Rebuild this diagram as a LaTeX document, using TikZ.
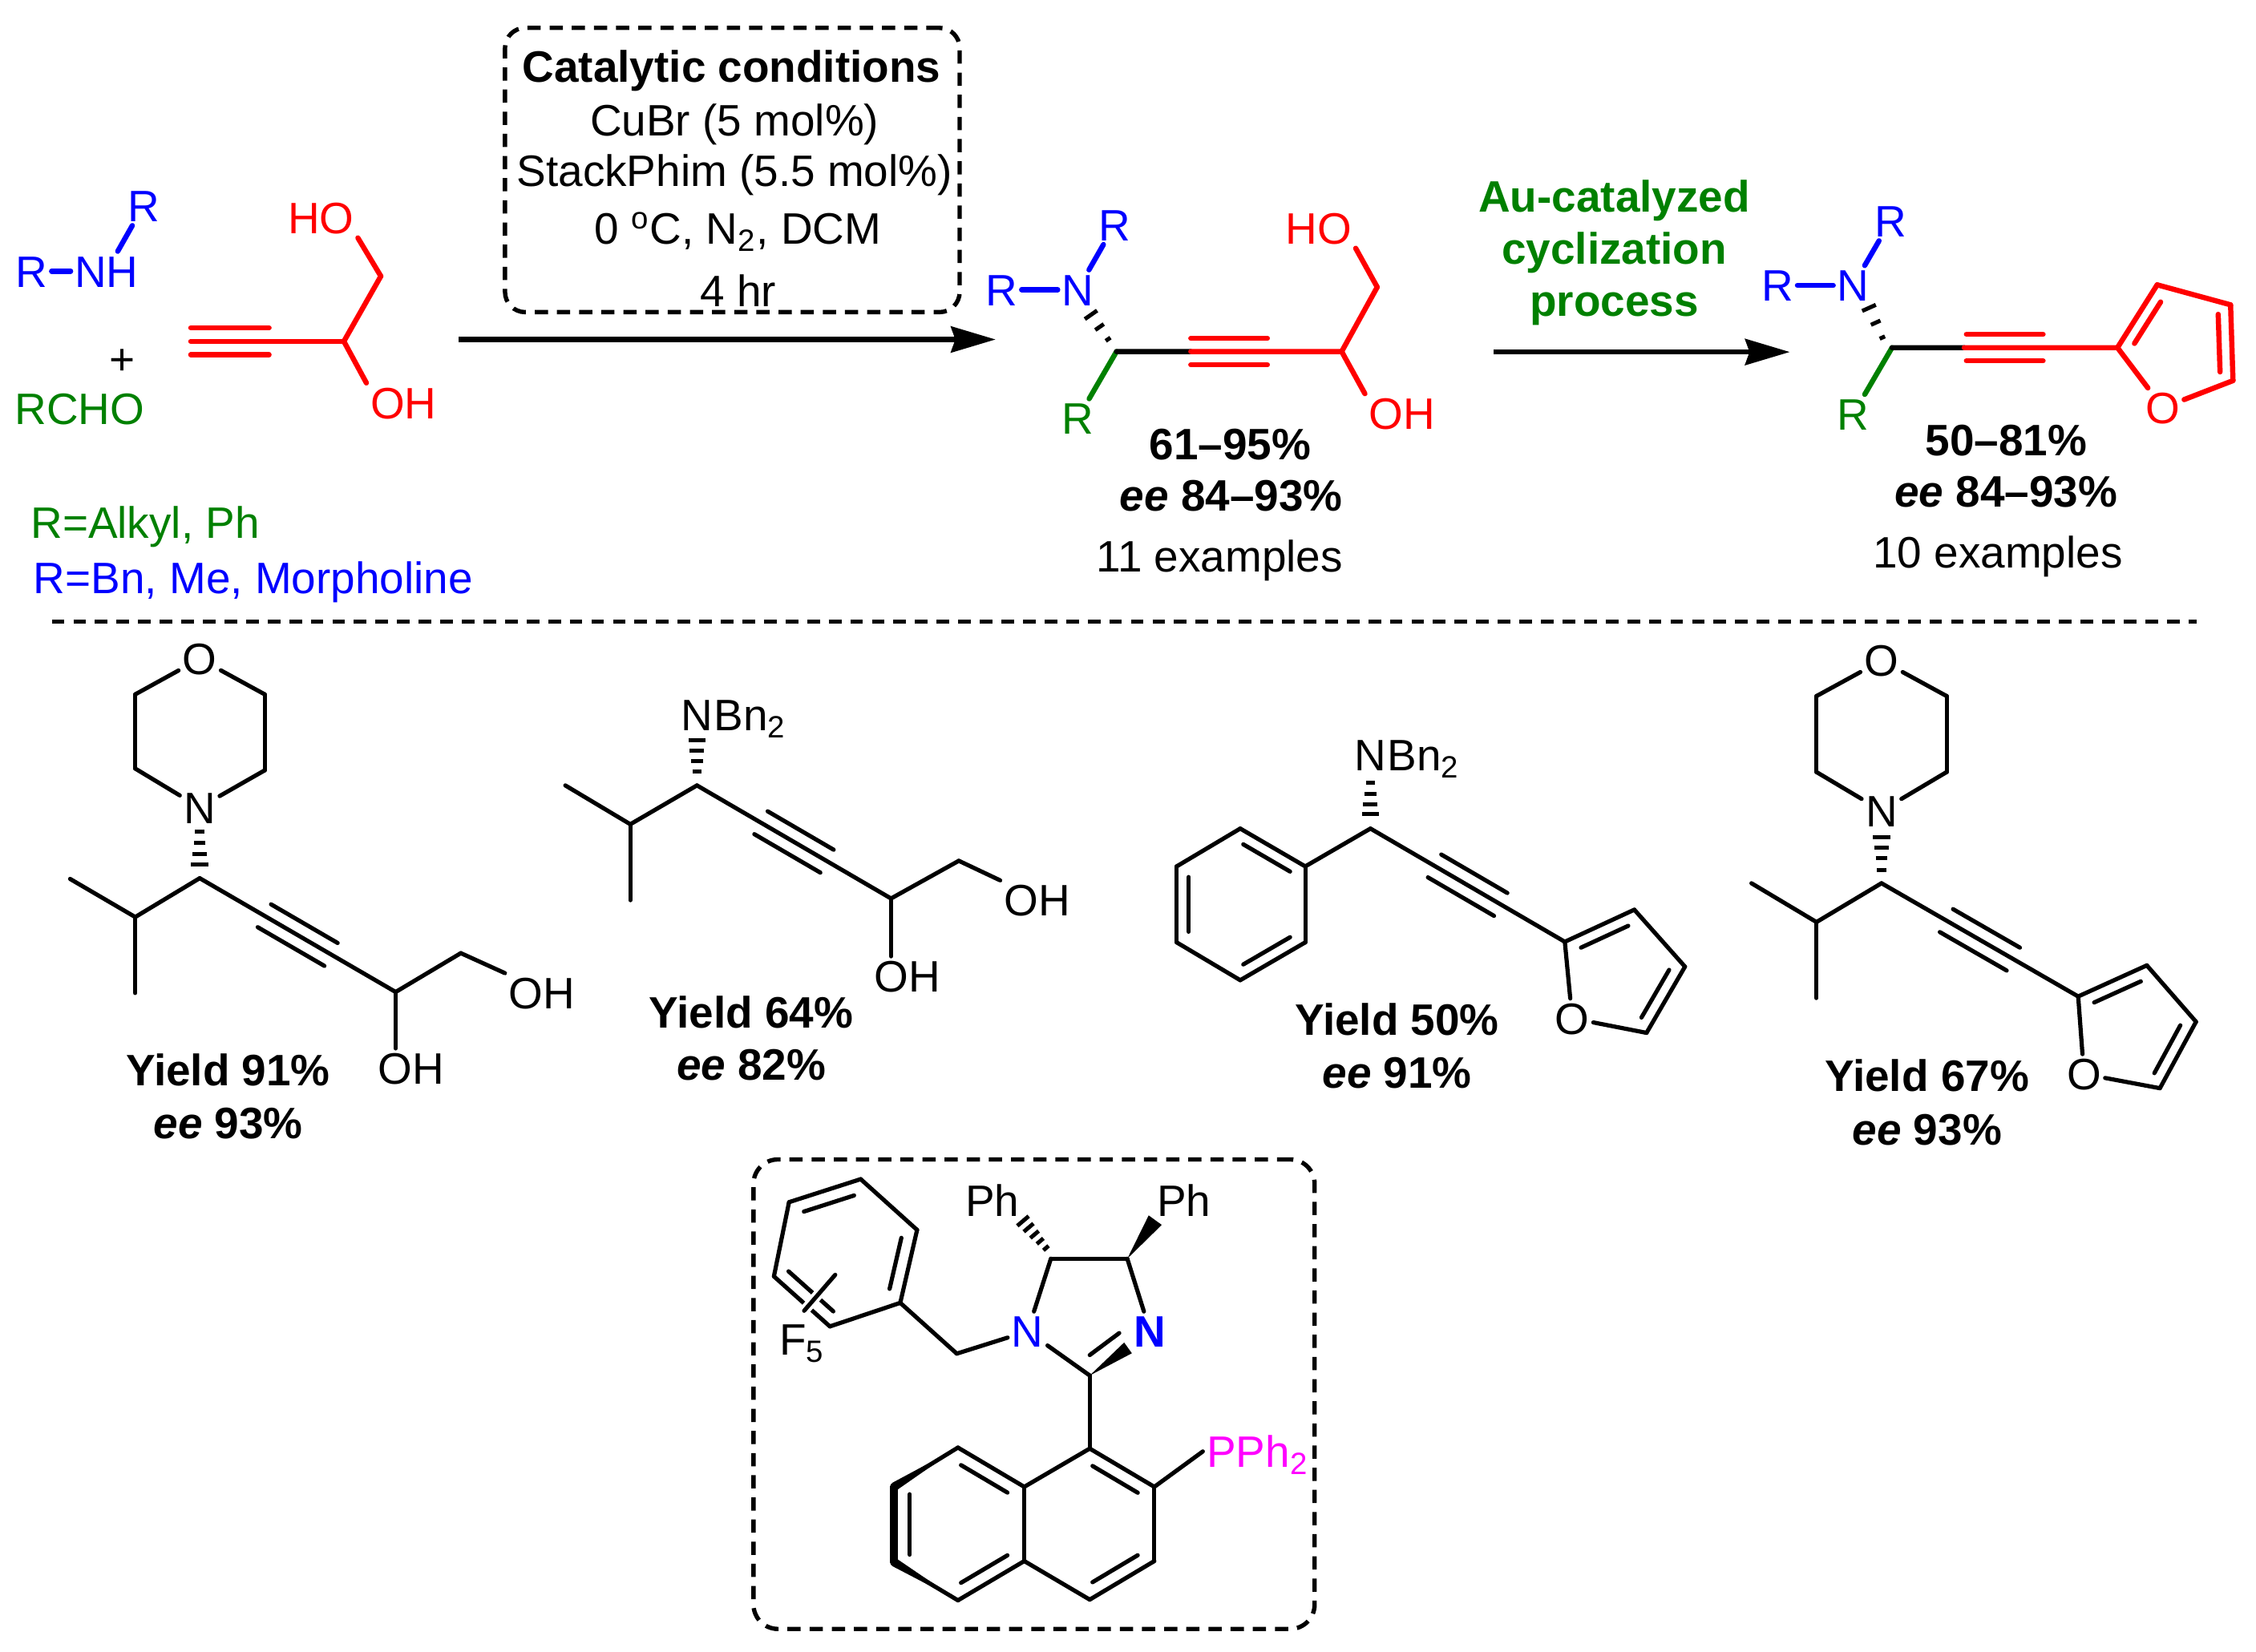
\documentclass[tikz,border=0pt]{standalone}
\usepackage{fontspec}
\setmainfont{Liberation Sans}
\usetikzlibrary{positioning, arrows.meta, calc}
\definecolor{chemgreen}{HTML}{008000}
\definecolor{chemmagenta}{HTML}{FF00FF}

\begin{document}
\begin{tikzpicture}[x=.5pt,y=-.5pt,
        every node/.style={font=\fontsize{15.3}{18}\selectfont},
        atom/.style={inner sep=1.2pt,text height=11pt,text depth=0pt},
        note/.style={inner sep=0pt,text height=11pt,text depth=0pt},
        bond/.style={line width=1.45pt,line cap=round,line join=round},
        fatbond/.style={line width=1.8pt,line cap=round,line join=round},
        hashbar/.style={line width=1.4pt},
        rxnarrow/.style={line width=1.8pt,-{Stealth[length=15.5pt,width=9pt,inset=1.5pt]}},
        dashbox/.style={draw,line width=1.5pt,dash pattern=on 4.6pt off 3.1pt,rounded corners=7pt}]

            \def\inbond#1#2#3#4#5{\draw[#1] ($(#2)!#4!(#3)!#5!90:(#3)$) -- ($(#3)!#4!(#2)!#5!-90:(#2)$);}
            \def\triple#1#2#3{\inbond{#1}{#2}{#3}{.33}{4.6pt}\inbond{#1}{#2}{#3}{.33}{-4.6pt}}
            \def\hashb#1#2#3{\foreach \pos/\wid in #3 {\draw[hashbar] ($(#1)!\pos!(#2)!\wid pt!90:(#2)$) -- ($(#1)!\pos!(#2)!\wid pt!-90:(#2)$);}}
            \def\wedgeb#1#2#3{\fill ($(#2)!#3!90:(#1)$) -- (#1) -- ($(#2)!#3!-90:(#1)$) -- cycle;}
            \def\hthree{.05/1,.5/1.8,.95/2.6}
            \def\hfour{.05/1.6,.36/2,.66/2.5,.95/3}
            \def\hfive{.03/1.2,.27/1.5,.5/1.9,.74/2.2,.97/2.6}

            \useasboundingbox (0,0) rectangle (1568,1148.4);

            % reactants
            \node[atom,blue] (a1) at (99.8,143) {R};
            \node[atom,blue] (a2) at (74,188.5) {NH};
            \node[atom,blue] (a3) at (22,188.5) {R};
            \node[atom] (a4) at (85,249.5) {+};
            \node[atom,chemgreen] (a5) at (55.4,284) {RCHO};
            \coordinate (a6) at (132.6,237.3);
            \coordinate (a7) at (187,237.3);
            \coordinate (a8) at (239,237.3);
            \coordinate (a9) at (264.7,192);
            \node[atom,red] (a10) at (223,151.6) {HO};
            \node[atom,red] (a11) at (280.4,280) {OH};
            \path[fatbond,blue]
            (a3) edge (a2)
            (a2) edge (a1)
            ;
            \path[fatbond,red]
            (a6) edge (a8)
            (a8) edge (a9)
            (a9) edge (a10.south east)
            (a8) edge (a11.north west)
            ;
            \inbond{fatbond,red}{a6}{a7}{0}{4.7pt}
            \inbond{fatbond,red}{a6}{a7}{0}{-4.7pt}

            \node[note,anchor=west,chemgreen] (r1) at (21,363.2) {R=Alkyl, Ph};
            \node[note,anchor=west,blue] (r2) at (23,401.8) {R=Bn, Me, Morpholine};

            % conditions
            \node[dashbox,minimum width=158pt,minimum height=98.8pt] (box1) at (509,118.2) {};
            \node[note] (t1) at (508.5,46.2) {\textbf{Catalytic conditions}};
            \node[note] (t2) at (510.5,83.6) {CuBr (5 mol\%)};
            \node[note] (t3) at (510.5,118.6) {StackPhim (5.5 mol\%)};
            \node[note] (t4) at (513,158.6) {0 \textsuperscript{o}C, N\textsubscript{2}, DCM};
            \node[note] (t5) at (513,202) {4 hr};
            \coordinate (s1) at (319,236);
            \coordinate (s2) at (692,236);
            \draw[rxnarrow] (s1) -- (s2);

            % propargylamine diol
            \node[atom,blue] (b1) at (774.8,156.2) {R};
            \node[atom,blue] (b2) at (749,201.4) {N};
            \node[atom,blue] (b3) at (696.2,201.4) {R};
            \node[atom,chemgreen] (b4) at (749,291) {R};
            \coordinate (b5) at (776,244.4);
            \coordinate (b6) at (932.5,244.4);
            \coordinate (b7) at ($(b5)!.33!(b6)$);
            \coordinate (b8) at (957.2,199.6);
            \coordinate (b12) at (770.8,236.8);
            \coordinate (b13) at (757.6,217.9);
            \node[atom,red] (b9) at (916.5,158.8) {HO};
            \node[atom,red] (b10) at (974.4,287.5) {OH};
            \path[fatbond,blue]
            (b3) edge (b2)
            (b2) edge (b1)
            ;
            \path[fatbond,chemgreen] (b5) edge (b4);
            \path[fatbond] (b5) edge (b7);
            \path[fatbond,red]
            (b7) edge (b6)
            (b6) edge (b8)
            (b8) edge (b9.south east)
            (b6) edge (b10.north west)
            ;
            \triple{fatbond,red}{b5}{b6}
            \hashb{b12}{b13}{\hthree}
            \node[note] (b14) at (855,308.4) {\textbf{61--95\%}};
            \node[note] (b15) at (855.7,344.2) {\textbf{\textit{ee} 84--93\%}};
            \node[note] (b16) at (847.7,386.8) {11 examples};

            % gold step
            \node[note,chemgreen] (u1) at (1122,136.3) {\textbf{Au-catalyzed}};
            \node[note,chemgreen] (u2) at (1122,172.4) {\textbf{cyclization}};
            \node[note,chemgreen] (u3) at (1122,208.6) {\textbf{process}};
            \coordinate (s3) at (1038,244.7);
            \coordinate (s4) at (1244,244.7);
            \draw[rxnarrow] (s3) -- (s4);

            % propargylamine furan
            \node[atom,blue] (c1) at (1314,153.6) {R};
            \node[atom,blue] (c2) at (1288,198.4) {N};
            \node[atom,blue] (c3) at (1235.4,198.4) {R};
            \node[atom,chemgreen] (c4) at (1288,288) {R};
            \coordinate (c5) at (1315,241.7);
            \coordinate (c6) at (1471.7,241.7);
            \coordinate (c7) at ($(c5)!.32!(c6)$);
            \coordinate (c8) at (1499.3,198);
            \coordinate (c9) at (1550.3,211.9);
            \coordinate (c10) at (1552,264.6);
            \node[atom,red] (c11) at (1503.3,283.5) {O};
            \coordinate (c12) at (1308.8,235.8);
            \coordinate (c13) at (1298.5,212.9);
            \path[fatbond,blue]
            (c3) edge (c2)
            (c2) edge (c1)
            ;
            \path[fatbond,chemgreen] (c5) edge (c4);
            \path[fatbond] (c5) edge (c7);
            \path[fatbond,red]
            (c7) edge (c6)
            (c6) edge (c8)
            (c8) edge (c9)
            (c9) edge (c10)
            (c10) edge (c11)
            (c11) edge (c6)
            ;
            \triple{fatbond,red}{c5}{c6}
            \inbond{fatbond,red}{c8}{c6}{.17}{4.2pt}
            \inbond{fatbond,red}{c10}{c9}{.12}{4.4pt}
            \hashb{c12}{c13}{\hthree}
            \node[note] (c14) at (1394.3,306) {\textbf{50--81\%}};
            \node[note] (c15) at (1394.3,341.6) {\textbf{\textit{ee} 84--93\%}};
            \node[note] (c16) at (1388.6,384) {10 examples};

            \coordinate (s5) at (36,432);
            \coordinate (s6) at (1527,432);
            \draw[line width=1.5pt,dash pattern=on 4.4pt off 3.1pt] (s5) -- (s6);

            % morpholine diol
            \node[atom] (d1) at (138.8,458) {O};
            \coordinate (d2) at (94,482.7);
            \coordinate (d3) at (94,534.3);
            \node[atom] (d4) at (138.8,561.3) {N};
            \coordinate (d5) at (184,535.5);
            \coordinate (d6) at (184,482.7);
            \coordinate (d7) at (138.8,610.5);
            \coordinate (d8) at (94,637.5);
            \coordinate (d9) at (48.7,611);
            \coordinate (d10) at (94,690.3);
            \coordinate (d11) at (275,689.6);
            \coordinate (d12) at (320.3,662.6);
            \node[atom] (d13) at (376.7,690.3) {OH};
            \node[atom] (d14) at (285.7,742.6) {OH};
            \coordinate (d15) at (138.8,577);
            \coordinate (d16) at (138.8,602.3);
            \path[bond]
            (d1) edge (d2)
            (d2) edge (d3)
            (d3) edge (d4)
            (d4) edge (d5)
            (d5) edge (d6)
            (d6) edge (d1)
            (d7) edge (d8)
            (d8) edge (d9)
            (d8) edge (d10)
            (d7) edge (d11)
            (d11) edge (d12)
            (d12) edge (d13.north west)
            (d11) edge (d11 |- d14.north)
            ;
            \triple{bond}{d7}{d11}
            \hashb{d15}{d16}{\hfour}
            \node[note] (d17) at (158.6,744) {\textbf{Yield 91\%}};
            \node[note] (d18) at (158.6,780.4) {\textbf{\textit{ee} 93\%}};

            % dibenzylamine diol
            \node[atom] (e1) at (484.4,496.8) {N};
            \node[atom,right=-1.2pt of e1,inner xsep=0pt] (e2) {Bn\textsubscript{2}};
            \coordinate (e3) at (484.4,546);
            \coordinate (e4) at (438.1,573);
            \coordinate (e5) at (392.9,546);
            \coordinate (e6) at (438.1,625.8);
            \coordinate (e7) at (619.3,624.6);
            \coordinate (e8) at (666.4,598.4);
            \node[atom] (e9) at (720.9,625.8) {OH};
            \node[atom] (e10) at (630.8,678.6) {OH};
            \coordinate (e11) at (484.4,537.8);
            \coordinate (e12) at (484.4,513.2);
            \path[bond]
            (e3) edge (e4)
            (e4) edge (e5)
            (e4) edge (e6)
            (e3) edge (e7)
            (e7) edge (e8)
            (e8) edge (e9.north west)
            (e7) edge (e7 |- e10.north)
            ;
            \triple{bond}{e3}{e7}
            \hashb{e11}{e12}{\hfour}
            \node[note] (e13) at (522.2,703.7) {\textbf{Yield 64\%}};
            \node[note] (e14) at (522.2,739.6) {\textbf{\textit{ee} 82\%}};

            % phenyl furan
            \node[atom] (f1) at (952.5,524.9) {N};
            \node[atom,right=-1.2pt of f1,inner xsep=0pt] (f2) {Bn\textsubscript{2}};
            \coordinate (f3) at (952.5,576);
            \coordinate (f4) at (907.2,602.3);
            \coordinate (f5) at (862,576);
            \coordinate (f6) at (817.8,602.3);
            \coordinate (f7) at (817.8,655.1);
            \coordinate (f8) at (862,681.4);
            \coordinate (f9) at (907.2,655.1);
            \coordinate (f10) at (1087.6,654.7);
            \coordinate (f11) at (1135.9,632.4);
            \coordinate (f12) at (1171.1,672);
            \coordinate (f13) at (1144.4,718);
            \node[atom] (f14) at (1092.7,707.9) {O};
            \coordinate (f15) at (952.5,543);
            \coordinate (f16) at (952.5,567.2);
            \path[bond]
            (f3) edge (f4)
            (f4) edge (f5)
            (f5) edge (f6)
            (f6) edge (f7)
            (f7) edge (f8)
            (f8) edge (f9)
            (f9) edge (f4)
            (f3) edge (f10)
            (f10) edge (f11)
            (f11) edge (f12)
            (f12) edge (f13)
            (f13) edge (f14)
            (f14) edge (f10)
            ;
            \inbond{bond}{f4}{f5}{.14}{4.2pt}
            \inbond{bond}{f6}{f7}{.14}{4.2pt}
            \inbond{bond}{f8}{f9}{.14}{4.2pt}
            \triple{bond}{f3}{f10}
            \inbond{bond}{f11}{f10}{.16}{4.2pt}
            \inbond{bond}{f13}{f12}{.14}{4.2pt}
            \hashb{f15}{f16}{\hfour}
            \node[note] (f17) at (971,708.4) {\textbf{Yield 50\%}};
            \node[note] (f18) at (971,745.6) {\textbf{\textit{ee} 91\%}};

            % morpholine furan
            \node[atom] (g1) at (1307.7,459.2) {O};
            \coordinate (g2) at (1262.5,483.9);
            \coordinate (g3) at (1262.5,536.7);
            \node[atom] (g4) at (1307.7,563.6) {N};
            \coordinate (g5) at (1353,536.7);
            \coordinate (g6) at (1353,483.9);
            \coordinate (g7) at (1307.7,614);
            \coordinate (g8) at (1262.5,641);
            \coordinate (g9) at (1217.3,614);
            \coordinate (g10) at (1262.5,693.8);
            \coordinate (g11) at (1444.4,692.7);
            \coordinate (g12) at (1492.1,671.1);
            \coordinate (g13) at (1526.3,710.3);
            \coordinate (g14) at (1501.2,756.5);
            \node[atom] (g15) at (1448.4,746.6) {O};
            \coordinate (g16) at (1307.7,605.9);
            \coordinate (g17) at (1307.7,580.5);
            \path[bond]
            (g1) edge (g2)
            (g2) edge (g3)
            (g3) edge (g4)
            (g4) edge (g5)
            (g5) edge (g6)
            (g6) edge (g1)
            (g7) edge (g8)
            (g8) edge (g9)
            (g8) edge (g10)
            (g7) edge (g11)
            (g11) edge (g12)
            (g12) edge (g13)
            (g13) edge (g14)
            (g14) edge (g15)
            (g15) edge (g11)
            ;
            \triple{bond}{g7}{g11}
            \inbond{bond}{g12}{g11}{.16}{4.2pt}
            \inbond{bond}{g14}{g13}{.14}{4.2pt}
            \hashb{g16}{g17}{\hfour}
            \node[note] (g18) at (1339.4,747.8) {\textbf{Yield 67\%}};
            \node[note] (g19) at (1339.4,785) {\textbf{\textit{ee} 93\%}};

            % ligand
            \node[dashbox,rounded corners=8.5pt,minimum width=195pt,minimum height=163.2pt] (box2) at (718.7,969.2) {};
            \coordinate (k1) at (598.2,819.7);
            \coordinate (k2) at (637.4,855);
            \coordinate (k3) at (625.7,905.7);
            \coordinate (k4) at (576.8,922.1);
            \coordinate (k5) at (537.9,887.3);
            \coordinate (k6) at (548.4,835.7);
            \coordinate (k7) at (665,941);
            \node[atom,blue] (k8) at (714.2,925.5) {N};
            \coordinate (k9) at (730.4,875);
            \coordinate (k10) at (783.5,875);
            \node[atom,blue] (k11) at (799.4,925.5) {\textbf{N}};
            \coordinate (k12) at (757.4,956.2);
            \coordinate (k13) at (784,937);
            \coordinate (k14) at (757.4,942);
            \coordinate (k15) at (777.9,926.7);
            \node[atom] (k16) at (689.7,834.5) {Ph};
            \node[atom] (k17) at (822.8,834.5) {Ph};
            \coordinate (k18) at (727.5,868.2);
            \coordinate (k19) at (710.5,848.2);
            \coordinate (k20) at (802.9,848.2);
            \coordinate (k21) at (757.4,1007);
            \coordinate (k22) at (802.3,1033.6);
            \coordinate (k23) at (802.3,1085.2);
            \coordinate (k24) at (757.4,1112);
            \coordinate (k25) at (711.9,1085.2);
            \coordinate (k26) at (711.9,1033.6);
            \coordinate (k27) at (665.8,1006.3);
            \coordinate (k28) at (621.5,1033.5);
            \coordinate (k29) at (621.5,1086);
            \coordinate (k30) at (665.8,1112.5);
            \node[atom,chemmagenta,anchor=west] (k31) at (836,1009) {PPh\textsubscript{2}};
            \coordinate (k32) at (580.5,886.2);
            \coordinate (k33) at (558.9,911.2);
            \node[atom] (k34) at (557.5,931.2) {F\textsubscript{5}};
            \path[bond]
            (k1) edge (k2)
            (k2) edge (k3)
            (k3) edge (k4)
            (k4) edge (k5)
            (k5) edge (k6)
            (k6) edge (k1)
            (k3) edge (k7)
            (k7) edge (k8)
            (k8) edge (k9)
            (k9) edge (k10)
            (k10) edge (k11)
            (k8) edge (k12)
            (k14) edge (k15)
            (k12) edge (k21)
            (k21) edge (k22)
            (k22) edge (k23)
            (k23) edge (k24)
            (k24) edge (k25)
            (k25) edge (k26)
            (k26) edge (k21)
            (k26) edge (k27)
            (k25) edge (k30)
            (k22) edge (k31.west)
            (k27) edge (k28)
            (k29) edge (k30)
            ;
            \inbond{bond}{k1}{k6}{.15}{4.7pt}
            \inbond{bond}{k3}{k2}{.15}{4.7pt}
            \inbond{bond}{k5}{k4}{.1}{4.7pt}
            \draw[white,line width=3.6pt] (k32) -- (k33);
            \path[bond] (k32) edge (k33);
            \wedgeb{k12}{k13}{2.3pt}
            \wedgeb{k10}{k20}{2.8pt}
            \hashb{k18}{k19}{\hfive}
            \wedgeb{k27}{k28}{1.5pt}
            \wedgeb{k30}{k29}{1.5pt}
            \draw[line width=2.8pt,line cap=round] (k28) -- (k29);
            \inbond{bond}{k28}{k29}{.1}{5.4pt}
            \inbond{bond}{k30}{k25}{.15}{4.7pt}
            \inbond{bond}{k26}{k27}{.15}{4.7pt}
            \inbond{bond}{k22}{k21}{.15}{4.7pt}
            \inbond{bond}{k24}{k23}{.15}{4.7pt}
        \end{tikzpicture}
\end{document}
